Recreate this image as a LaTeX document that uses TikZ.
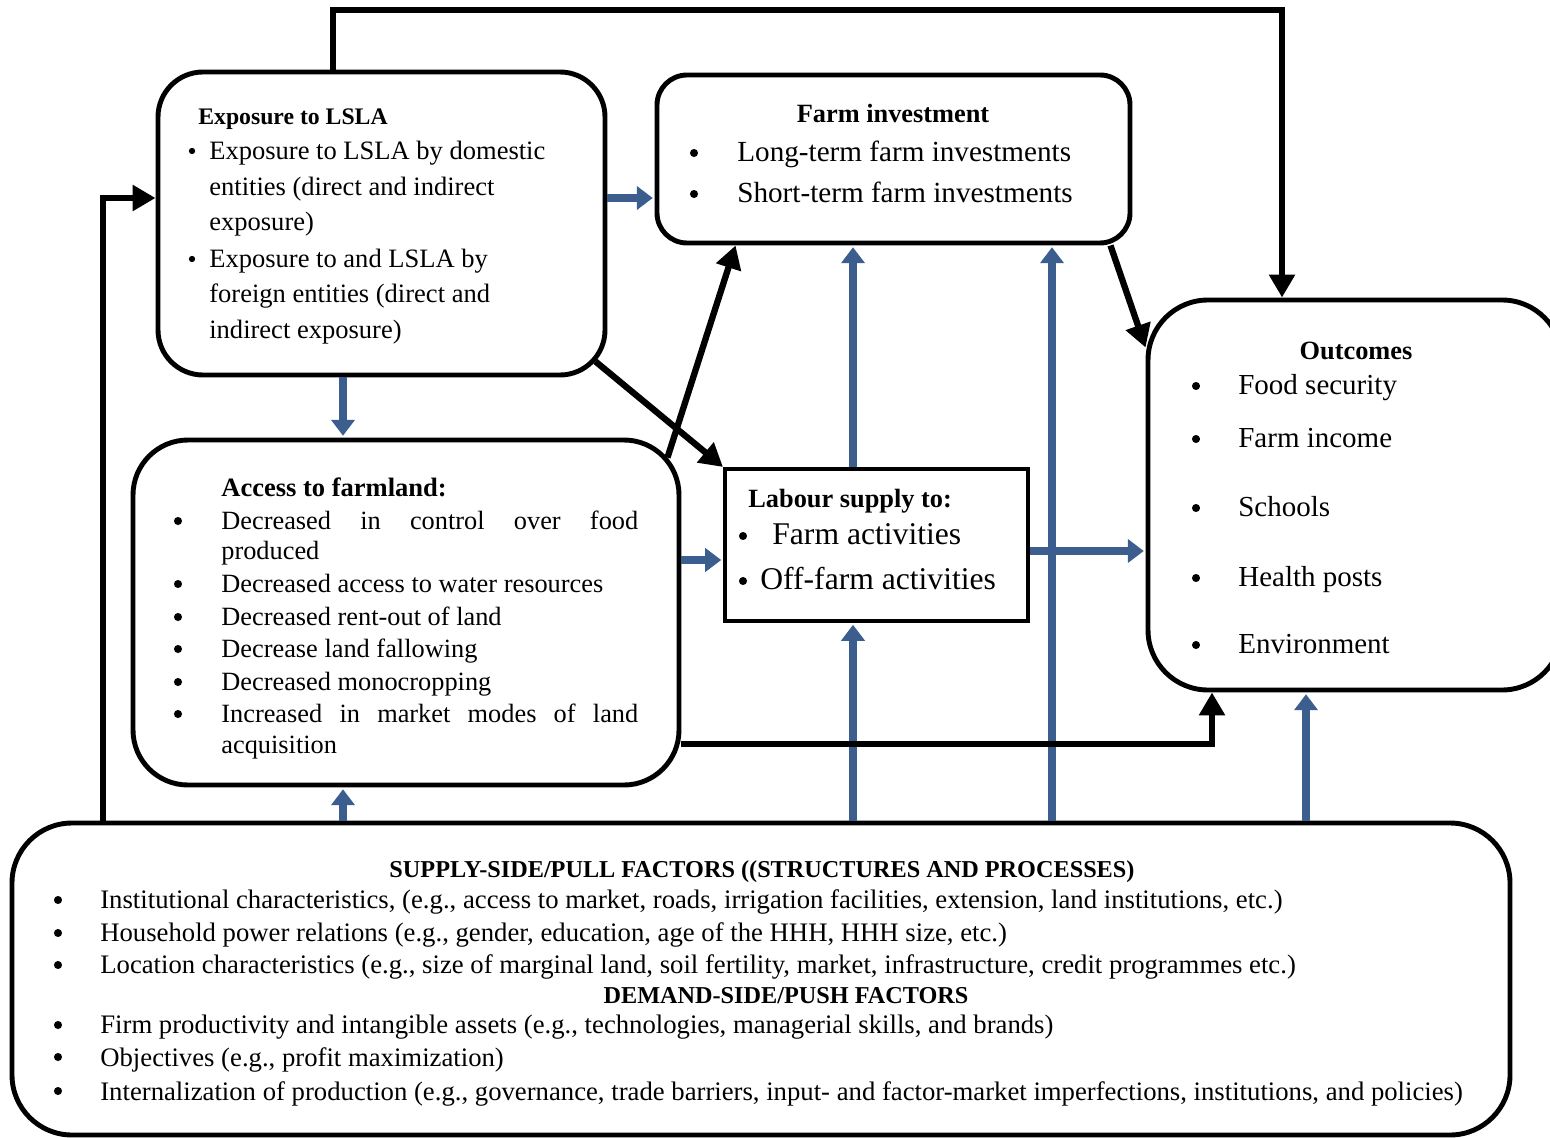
\documentclass[tikz,border=0pt]{standalone}
\usepackage{fontspec}
\setmainfont{Liberation Serif}
\usetikzlibrary{arrows.meta,positioning,fit,calc}
\definecolor{arrBlue}{HTML}{3B5E8E}
\tikzset{
  rbox/.style={draw=black, line width=2.8pt, inner sep=0pt},
  sbox/.style={draw=black, line width=2.3pt, inner sep=0pt},
  hd/.style={anchor=base west, inner sep=0pt, yshift=-1.7pt, font=\fontsize{#1}{18}\selectfont\bfseries},
  hd/.default=15,
  itm/.style={anchor=base west, inner sep=0pt, yshift=-1.7pt, font=\fontsize{#1}{20}\selectfont},
  itm/.default=15,
  bul/.style={circle, fill=black, inner sep=0pt, minimum size=#1},
  bul/.default=4.6pt,
  flow/.style={-{Triangle[length=0.46cm,width=0.5cm]}, line width=3.6pt, draw=black},
  bflow/.style={-{Triangle[length=0.32cm,width=0.46cm]}, line width=5pt, draw=arrBlue,
        shorten >=1pt}
}
\begin{document}
\begin{tikzpicture}[x=0.02cm, y=-0.02cm]
\useasboundingbox (0,0) rectangle (1550,1138);
\clip (0,0) rectangle (1550,1138);

% boxes
\node[rbox, rounded corners=0.9cm, fit={(158,72) (605,375)}] (lsla) {};
\node[rbox, rounded corners=0.6cm, fit={(657,75) (1130,243)}] (farminv) {};
\node[rbox, rounded corners=1.1cm, fit={(133,440) (679,785)}] (access) {};
\node[sbox, fit={(725,469) (1028,621)}] (labour) {};
\node[rbox, rounded corners=1.2cm, fit={(1148,300) (1562,690)}] (outc) {};
\node[rbox, rounded corners=1.2cm, fit={(12,823) (1510,1135)}] (factors) {};

% exposure to LSLA
\node[hd=13.5] (lslah) at (198,122) {Exposure to LSLA};
\foreach \yy/\txt [count=\i] in {157/{Exposure to LSLA by domestic}, 193/{entities (direct and indirect},
    228/{exposure)}, 265/{Exposure to and LSLA by}, 300/{foreign entities (direct and}, 336/{indirect exposure)}}
  \node[itm=15.1] (lsla\i) at (209,\yy) {\txt};
\foreach \yy [count=\i] in {157,265}
  \node[bul=3.6pt] (lslab\i) at (192,\yy-6) {};

% farm investment
\node[hd, anchor=base] (farminvh) at (893,120) {Farm investment};
\foreach \yy/\txt [count=\i] in {159/{Long-term farm investments}, 200/{Short-term farm investments}} {
  \node[itm=16.6] (farminv\i) at (737,\yy) {\txt};
  \node[bul] (farminvb\i) at (694,\yy-6) {};
}

% access to farmland
\node[hd=15.1] (accessh) at (221,494) {Access to farmland:};
\foreach \yy/\txt [count=\i] in {527/{\makebox[8.34cm][s]{Decreased in control over food}}, 557/{produced},
    590/{Decreased access to water resources}, 623/{Decreased rent-out of land},
    655/{Decrease land fallowing}, 688/{Decreased monocropping},
    720/{\makebox[8.34cm][s]{Increased in market modes of land}}, 751/{acquisition}}
  \node[itm=15] (access\i) at (221,\yy) {\txt};
\foreach \yy [count=\i] in {527,590,623,655,688,720}
  \node[bul] (accessb\i) at (178,\yy-6) {};

% labour supply
\node[hd] (labourh) at (748,505) {Labour supply to:};
\node[itm=18] (labour1) at (772,542) {Farm activities};
\node[itm=18] (labour2) at (760,587) {Off-farm activities};
\node[bul] (labourb1) at (743,536) {};
\node[bul] (labourb2) at (743,581) {};

% outcomes
\node[hd, anchor=base] (outch) at (1356,357) {Outcomes};
\foreach \yy/\txt [count=\i] in {392/{Food security}, 445/{Farm income}, 514/{Schools},
    584/{Health posts}, 651/{Environment}} {
  \node[itm=16.5] (outc\i) at (1238,\yy) {\txt};
  \node[bul] (outcb\i) at (1196,\yy-6) {};
}

% supply / demand factors
\node[hd=13.8, anchor=base] (supplyh) at (762,875) {SUPPLY-SIDE/PULL FACTORS ((STRUCTURES AND PROCESSES)};
\node[hd=13.8, anchor=base] (demandh) at (786,1000) {DEMAND-SIDE/PUSH FACTORS};
\foreach \yy/\txt [count=\i] in {
    906/{Institutional characteristics, (e.g., access to market, roads, irrigation facilities, extension, land institutions, etc.)},
    939/{Household power relations (e.g., gender, education, age of the HHH, HHH size, etc.)},
    971/{Location characteristics (e.g., size of marginal land, soil fertility, market, infrastructure, credit programmes etc.)},
    1031/{Firm productivity and intangible assets (e.g., technologies, managerial skills, and brands)},
    1063/{Objectives (e.g., profit maximization)},
    1097/{Internalization of production (e.g., governance, trade barriers, input- and factor-market imperfections, institutions, and policies)}} {
  \node[itm=15.2] (factors\i) at (100,\yy) {\txt};
  \node[bul] (factorsb\i) at (58,\yy-6) {};
}

% helper coordinates
\coordinate (tl) at (333,10);
\coordinate (tr) at (1282,10);
\coordinate (fl) at (103,198);
\coordinate (ab) at (1212,744);
\coordinate (bx) at (343,0);
\coordinate (cy) at (0,560);
\coordinate (dy) at (0,551);
\coordinate (ex) at (853,0);
\coordinate (gx) at (1052,0);
\coordinate (hx) at (1306,0);

% blue links
\draw[bflow] (lsla.east |- fl) -- (farminv.west |- fl);
\draw[bflow] (bx |- lsla.south) -- (bx |- access.north);
\draw[bflow] (bx |- factors.north) -- (bx |- access.south);
\draw[bflow] (access.east |- cy) -- (labour.west |- cy);
\draw[bflow] (labour.east |- dy) -- (outc.west |- dy);
\draw[bflow] (ex |- labour.north) -- (ex |- farminv.south);
\draw[bflow] (ex |- factors.north) -- (ex |- labour.south);
\draw[bflow] (gx |- factors.north) -- (gx |- farminv.south);
\draw[bflow] (hx |- factors.north) -- (hx |- outc.south);

% black links
\draw[flow] (tl |- lsla.north) -- (tl) -- (tr) -- (tr |- outc.north);
\draw[flow] (fl |- factors.north) -- (fl) -- (lsla.west |- fl);
\draw[flow] ($(lsla.south east)+(-12,-16)$) -- (labour.north west);
\draw[flow] ($(access.north east)+(-14,20)$) -- ($(farminv.south west)+(81,0)$);
\draw[flow] ($(farminv.south east)+(-22,0)$) -- ($(outc.north west)+(0,50)$);
\draw[flow] (access.east |- ab) -- (ab) -- (ab |- outc.south);
\end{tikzpicture}
\end{document}
